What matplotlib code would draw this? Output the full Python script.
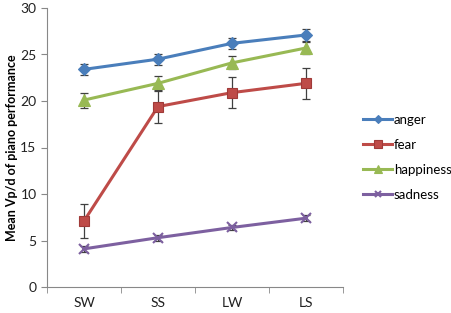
import matplotlib.pyplot as plt
import numpy as np

plt.rcParams['font.family'] = ['Lato', 'DejaVu Sans']

# conditions on the x axis
conditions = ["SW", "SS", "LW", "LS"]

anger = [23.4, 24.5, 26.2, 27.1]
anger_err = [0.6, 0.6, 0.6, 0.6]
fear = [7.1, 19.4, 20.9, 21.9]
fear_err = [1.8, 1.8, 1.7, 1.7]
happiness = [20.1, 21.9, 24.1, 25.7]
happiness_err = [0.8, 0.8, 0.7, 0.6]
sadness = [4.1, 5.3, 6.4, 7.4]
sadness_err = [0.3, 0.3, 0.3, 0.3]

fig = plt.figure(figsize=(4.52, 3.13), dpi=100)
ax = fig.add_axes([47 / 452, 26 / 313, 296 / 452, 279 / 313])

x = np.arange(len(conditions))
series = [
    ("anger", anger, anger_err, "#4A7EBB", "D", 6),
    ("fear", fear, fear_err, "#BE4B48", "s", 7.5),
    ("happiness", happiness, happiness_err, "#98B954", "^", 8),
    ("sadness", sadness, sadness_err, "#7D60A0", "x", 7),
]
handles = []
for name, vals, err, col, mk, ms in series:
    ax.errorbar(x, vals, yerr=err, fmt="none", ecolor="#404040",
                elinewidth=0.9, capsize=3, capthick=0.9, zorder=2)
    h, = ax.plot(x, vals, color=col, lw=2.2, marker=mk, markersize=ms,
                 markeredgewidth=1.5 if mk == "x" else 0.8,
                 markeredgecolor=col if mk != "s" else "#A03A38",
                 label=name, zorder=3)
    handles.append(h)

ax.set_xlim(-0.5, 3.5)
ax.set_ylim(0, 30)
ax.set_yticks(range(0, 31, 5))
ax.set_xticks(x)
ax.set_xticklabels(conditions)
ax.set_xticks(np.arange(-0.5, 4, 1), minor=True)
ax.tick_params(axis="x", which="major", length=0, pad=7)
ax.tick_params(axis="x", which="minor", length=4, color="#888888", direction="out")
ax.tick_params(axis="y", length=4, color="#888888", direction="out")
ax.tick_params(labelsize=10, labelcolor="#222222")

for side in ["top", "right"]:
    ax.spines[side].set_visible(False)
for side in ["left", "bottom"]:
    ax.spines[side].set_color("#888888")

fig.text(12 / 452, 1 - 148 / 313, "Mean Vp/d of piano performance", fontsize=9,
         fontweight="bold", rotation=90, ha="center", va="center")

fig.legend(handles=handles, loc="upper left", bbox_to_anchor=(363 / 452, 1 - 114 / 313),
           frameon=False, fontsize=9.5, handlelength=2.2, labelspacing=0.98,
           handletextpad=0.15, borderpad=0, borderaxespad=0, markerscale=0.7)

fig.savefig("out.png", dpi=100)
